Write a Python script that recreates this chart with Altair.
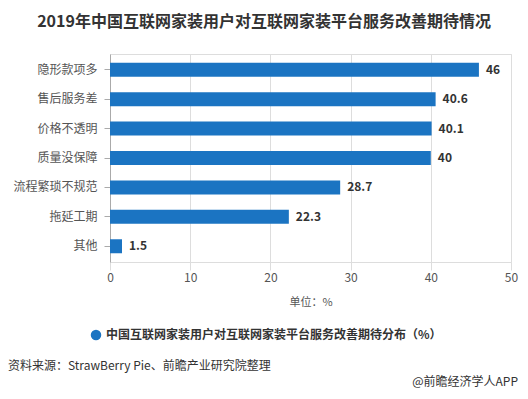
import altair as alt
import pandas as pd

categories = ["隐形款项多", "售后服务差", "价格不透明", "质量没保障", "流程繁琐不规范", "拖延工期", "其他"]
values = [46, 40.6, 40.1, 40, 28.7, 22.3, 1.5]
series_name = "中国互联网家装用户对互联网家装平台服务改善期待分布（%）"
title_text = "2019年中国互联网家装用户对互联网家装平台服务改善期待情况"
source_text = "资料来源：StrawBerry Pie、前瞻产业研究院整理"
brand_text = "@前瞻经济学人APP"
x_ticks = [0, 10, 20, 30, 40, 50]

FONT = "Noto Sans CJK SC"
BLUE = "#1b74c2"

df = pd.DataFrame({"cat": categories, "val": values, "series": [series_name] * len(values)})

y_enc = alt.Y("cat:N", sort=None, title=None,
              axis=alt.Axis(labelFontSize=12, labelColor="#555", labelFont=FONT,
                            domainColor="#aaa", tickColor="#aaa", tickSize=6,
                            labelPadding=7, grid=False),
              scale=alt.Scale(paddingInner=0.53, paddingOuter=0.3))

x_enc = alt.X("val:Q", title="单位：%",
              scale=alt.Scale(domain=[0, 50], nice=False),
              axis=alt.Axis(values=x_ticks, labelFontSize=12, labelColor="#555", labelFont=FONT,
                            domain=False, tickColor="#ddd", tickSize=8, labelPadding=2,
                            labelFlush=False, labelOverlap=False, labelBound=False,
                            gridColor="#ddd", titleFontSize=11, titleColor="#555",
                            titleFont=FONT, titleFontWeight="normal", titlePadding=13))

bars = alt.Chart(df).mark_bar(size=14).encode(
    x=x_enc, y=y_enc,
    color=alt.Color("series:N", scale=alt.Scale(range=[BLUE]), title=None,
                    legend=alt.Legend(orient="none", legendX=-20, legendY=275,
                                      symbolType="circle", symbolSize=110,
                                      labelFontSize=12, labelFont=FONT, labelColor="#333",
                                      labelFontWeight="bold", symbolStrokeWidth=0,
                                      labelLimit=600)),
)

labels = alt.Chart(df).mark_text(align="left", dx=7, fontSize=12, fontWeight="bold",
                                 color="#333", font=FONT).encode(
    x="val:Q", y=alt.Y("cat:N", sort=None), text="val:Q")

ann = pd.DataFrame({"t": [title_text]})
title = alt.Chart(ann).mark_text(fontSize=16, fontWeight="bold", color="#333", font=FONT,
                                 align="center", baseline="middle").encode(
    x=alt.value(154), y=alt.value(-32), text="t:N")

src = alt.Chart(pd.DataFrame({"t": [source_text]})).mark_text(
    fontSize=12, color="#333", font=FONT, align="left", baseline="middle").encode(
    x=alt.value(-102), y=alt.value(312), text="t:N")

brand = alt.Chart(pd.DataFrame({"t": [brand_text]})).mark_text(
    fontSize=12, color="#333", font=FONT, align="right", baseline="middle").encode(
    x=alt.value(408), y=alt.value(328), text="t:N")

chart = alt.layer(bars, labels, title, src, brand).properties(
    width=401, height=208,
    autosize=alt.AutoSizeParams(type="none"),
    padding={"left": 102, "top": 46, "right": 9, "bottom": 129},
).configure_view(stroke=None).configure(font=FONT)

chart.save("out.html", embed_options={"renderer": "svg", "actions": False})
